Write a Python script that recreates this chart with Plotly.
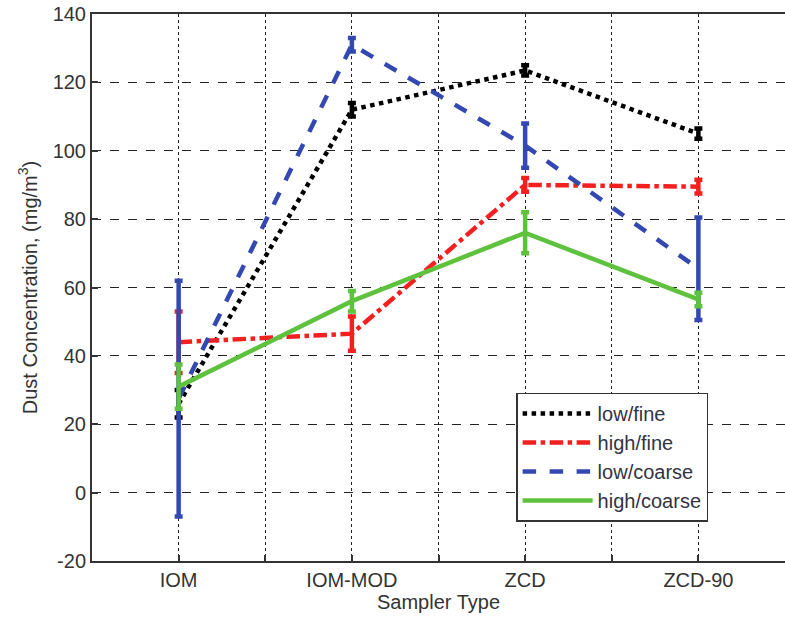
import plotly.graph_objects as go

categories = ["IOM", "IOM-MOD", "ZCD", "ZCD-90"]
series_names = ["low/fine", "high/fine", "low/coarse", "high/coarse"]
low_fine = [26, 112, 123.5, 105]
low_fine_err = [4, 2, 1.5, 1.5]
high_fine = [44, 46.5, 90, 89.5]
high_fine_err = [9, 5, 2, 2]
low_coarse = [27.5, 131, 101.5, 65.5]
low_coarse_err = [34.5, 2, 6.5, 15]
high_coarse = [31, 56, 76, 56.5]
high_coarse_err = [6.5, 3, 6, 2]
y_ticks = [-20, 0, 20, 40, 60, 80, 100, 120, 140]
y_tick_labels = ["-20", "0", "20", "40", "60", "80", "100", "120", "140"]

values = [low_fine, high_fine, low_coarse, high_coarse]
errors = [low_fine_err, high_fine_err, low_coarse_err, high_coarse_err]
colors = ["#000000", "#f42020", "#3448b2", "#5ec23e"]
dashes = ["dot", "dashdot", "dash", "solid"]

xpos = list(range(1, len(categories) + 1))

fig = go.Figure()
for name, v, e, c, d in zip(series_names, values, errors, colors, dashes):
    fig.add_trace(go.Scatter(
        x=xpos, y=v, name=name, mode="lines",
        line=dict(color=c, width=4.5, dash=d),
        error_y=dict(type="data", array=e, visible=True, color=c, thickness=4.5, width=4),
    ))

font = dict(family="Liberation Sans, Arial, sans-serif", size=20, color="#333333")

fig.update_layout(
    width=785, height=624,
    margin=dict(l=92, r=0, t=14, b=63),
    plot_bgcolor="white", paper_bgcolor="white",
    font=font,
    showlegend=True,
    legend=dict(
        x=0.612, y=0.072, xanchor="left", yanchor="bottom",
        bordercolor="#333333", borderwidth=1.5, bgcolor="white",
        font=dict(family="Liberation Sans, Arial, sans-serif", size=20, color="#333344"),
        tracegroupgap=0, itemwidth=70,
    ),
    xaxis=dict(
        range=[0.5, 4.5], tickvals=xpos, ticktext=categories,
        automargin=False,
        showgrid=True, gridcolor="#222222", griddash="dot", gridwidth=1.2,
        minor=dict(tick0=0.5, dtick=0.5, showgrid=True, gridcolor="#222222",
                   griddash="dot", gridwidth=1.2, ticks="inside", ticklen=6,
                   tickcolor="#333333", tickwidth=1.5),
        showline=True, linecolor="#333333", linewidth=2, mirror=True,
        ticks="inside", ticklen=6, tickcolor="#333333", tickwidth=1.5,
        zeroline=False,
        title=dict(text="Sampler Type", standoff=2, font=font),
    ),
    yaxis=dict(
        range=[-20, 140], tickvals=y_ticks, ticktext=y_tick_labels,
        automargin=False,
        showgrid=True, gridcolor="#222222", griddash="dash", gridwidth=1.2,
        showline=True, linecolor="#333333", linewidth=2, mirror=False,
        ticks="inside", ticklen=6, tickcolor="#333333", tickwidth=1.5,
        zeroline=False,
        title=dict(text="Dust Concentration, (mg/m<sup>3</sup>)", standoff=10, font=font),
    ),
)

fig.write_html("out.html")
